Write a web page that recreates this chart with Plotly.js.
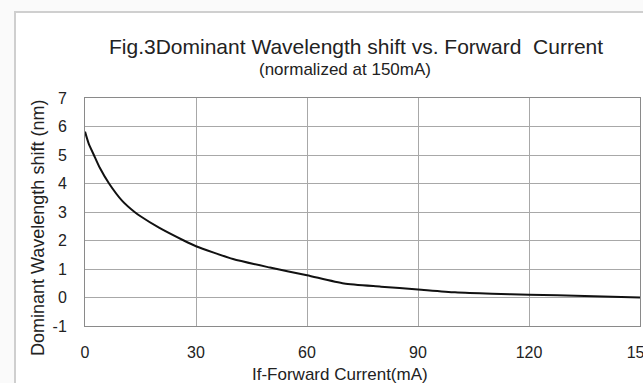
<!DOCTYPE html>
<html>
<head>
<meta charset="utf-8">
<script src="https://cdn.plot.ly/plotly-3.0.1.min.js"></script>
<style>
html,body{margin:0;padding:0;background:#fafafa;width:643px;height:383px;overflow:hidden;}
#panel{position:absolute;left:14px;top:11px;width:640px;height:380px;background:#fff;border-left:2px solid #cfcfcf;border-top:2px solid #cfcfcf;}
#chart{position:absolute;left:0;top:0;width:643px;height:383px;}
</style>
</head>
<body>
<div id="panel"></div>
<div id="chart"></div>
<script>
const current = [0, 1, 2.4, 4, 6.5, 10, 13.4, 15, 20, 26.7, 30, 40, 50, 60, 70, 80, 90, 100, 110, 120, 135, 150];
const shift = [5.82, 5.4, 5.0, 4.55, 4.0, 3.4, 3.0, 2.85, 2.45, 2.0, 1.8, 1.35, 1.05, 0.78, 0.49, 0.38, 0.28, 0.18, 0.13, 0.10, 0.05, 0.0];
const xTicks = [0, 30, 60, 90, 120, 150];
const yTicks = [-1, 0, 1, 2, 3, 4, 5, 6, 7];

const L = 85, R = 640, T = 98.3, B = 325.7;
const W = 643, H = 383;
function px(x){return (x - L)/(R - L);}
function py(y){return (B - y)/(B - T);}
const font = 'Liberation Sans, Arial, sans-serif';

const trace = {
  x: current, y: shift, mode: 'lines', type: 'scatter',
  line: {color: '#111', width: 2, shape: 'spline', smoothing: 0.6},
  hoverinfo: 'skip'
};
const layout = {
  width: W, height: H,
  margin: {l: L, r: W - R, t: T, b: H - B, pad: 0},
  paper_bgcolor: 'rgba(0,0,0,0)', plot_bgcolor: '#fff',
  showlegend: false,
  xaxis: {
    range: [0, 150], tickvals: xTicks, ticktext: xTicks.map(String),
    showgrid: true, gridcolor: '#a8a8a8', gridwidth: 1,
    showline: true, linecolor: '#8a8a8a', linewidth: 1, mirror: true,
    ticks: '', zeroline: false, ticklabelstandoff: 12, ticklabeloverflow: 'allow',
    tickfont: {family: font, size: 16, color: '#222'}
  },
  yaxis: {
    range: [-1, 7], tickvals: yTicks, ticktext: yTicks.map(String),
    showgrid: true, gridcolor: '#a8a8a8', gridwidth: 1,
    showline: true, linecolor: '#8a8a8a', linewidth: 1, mirror: true,
    ticks: '', zeroline: false, ticklabelstandoff: 14,
    tickfont: {family: font, size: 16, color: '#222'}
  },
  annotations: [
    {text: 'Fig.3Dominant Wavelength shift vs. Forward  Current', xref: 'paper', yref: 'paper',
     x: px(356), y: py(47), xanchor: 'center', yanchor: 'middle', showarrow: false,
     font: {family: font, size: 21, color: '#222'}},
    {text: '(normalized at 150mA)', xref: 'paper', yref: 'paper',
     x: px(345), y: py(70), xanchor: 'center', yanchor: 'middle', showarrow: false,
     font: {family: font, size: 17, color: '#222'}},
    {text: 'If-Forward Current(mA)', xref: 'paper', yref: 'paper',
     x: px(340), y: py(374), xanchor: 'center', yanchor: 'middle', showarrow: false,
     font: {family: font, size: 17, color: '#222'}},
    {text: 'Dominant Wavelength shift (nm)', xref: 'paper', yref: 'paper', textangle: -90,
     x: px(38), y: py(228), xanchor: 'center', yanchor: 'middle', showarrow: false,
     font: {family: font, size: 18, color: '#222'}}
  ]
};
Plotly.newPlot('chart', [trace], layout, {staticPlot: true, displayModeBar: false});
</script>
</body>
</html>
